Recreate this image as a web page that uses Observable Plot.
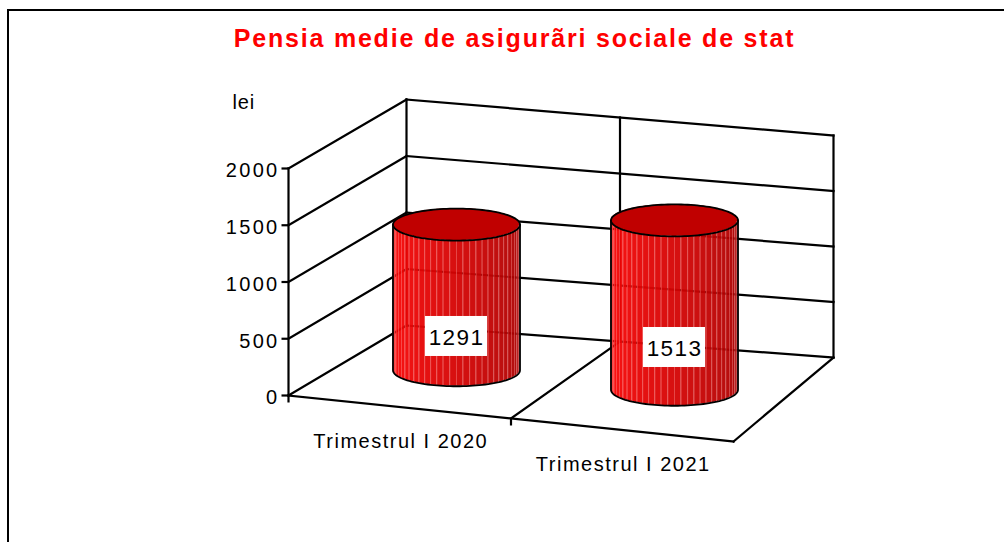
<!DOCTYPE html>
<html>
<head>
<meta charset="utf-8">
<script src="https://cdn.jsdelivr.net/npm/d3@7"></script>
<script src="https://cdn.jsdelivr.net/npm/@observablehq/plot@0.6"></script>
<style>
  html, body { margin: 0; padding: 0; background: #fff; overflow: hidden; }
  #chart { position: absolute; left: 0; top: 0; }
  #frame { position: absolute; left: 7px; top: 9px; width: 1100px; height: 700px;
           border-left: 2px solid #000; border-top: 2px solid #000; pointer-events: none; }
</style>
</head>
<body>
<div id="chart"></div>
<div id="frame"></div>
<script>
// ---- data ----
const title = "Pensia medie de asigurãri sociale de stat";
const unitLabel = "lei";
const categories = ["Trimestrul I 2020", "Trimestrul I 2021"];
const values = [1291, 1513];
const yTicks = [0, 500, 1000, 1500, 2000];
const yMax = 2000;

// ---- 3D box geometry (projected corners of the floor and wall heights) ----
const W = 1004, H = 542;
const floorPts = {f0: [288, 395], f1: [733, 441], b0: [406, 325], b1: [833, 357]};
const wallH = {f0: 227, f1: 224, b0: 226, b1: 222};
const lerp = (a, b, t) => a + (b - a) * t;
// X: 0..1 across categories, Z: 0 front .. 1 back, v: value in lei
function proj(X, Z, v) {
  const fx = lerp(floorPts.f0[0], floorPts.f1[0], X), fy = lerp(floorPts.f0[1], floorPts.f1[1], X);
  const bx = lerp(floorPts.b0[0], floorPts.b1[0], X), by = lerp(floorPts.b0[1], floorPts.b1[1], X);
  const h = lerp(lerp(wallH.f0, wallH.f1, X), lerp(wallH.b0, wallH.b1, X), Z);
  return [lerp(fx, bx, Z), lerp(fy, by, Z) - (v / yMax) * h];
}
const n = categories.length;
const seg = (a, b) => ({x1: a[0], y1: a[1], x2: b[0], y2: b[1]});

// wall / floor lines
const lines = [];
for (const v of yTicks) {
  lines.push(seg(proj(0, 0, v), proj(0, 1, v)));   // side wall
  lines.push(seg(proj(0, 1, v), proj(1, 1, v)));   // back wall
}
lines.push(seg(proj(0, 0, 0), proj(0, 0, yMax)));  // value axis
for (let i = 0; i <= n; i++) {
  lines.push(seg(proj(i / n, 1, 0), proj(i / n, 1, yMax))); // back wall verticals
  if (i > 0) lines.push(seg(proj(i / n, 0, 0), proj(i / n, 1, 0))); // floor depth lines
}
lines.push(seg(proj(0, 0, 0), proj(1, 0, 0)));      // floor front edge

// tick marks
const yTickMarks = yTicks.map(v => { const p = proj(0, 0, v); return {x1: p[0] - 7, y1: p[1], x2: p[0], y2: p[1]}; });
const xTickMarks = d3.range(0, n).map(i => { const p = proj(i / n, 0, 0); return {x1: p[0], y1: p[1], x2: p[0], y2: p[1] + 7}; });

// ---- cylinders ----
const rx = 63.5, ry = 16, N = 30, zPos = 0.5;
const cyl = values.map((v, i) => {
  const X = (i + 0.5) / n;
  const [cx, cyB] = proj(X, zPos, 0);
  const cyT = proj(X, zPos, v)[1];
  return {i, v, X, cx, cyB, cyT};
});
const shade = t => d3.interpolateRgb("#ff0606", "#a00000")(Math.pow(t, 1.15));
const facetPts = [], facetLines = [], topPts = [], topOutline = [], sideOutline = [];
for (const c of cyl) {
  for (let j = 0; j < N; j++) {
    const t0 = Math.PI - j * Math.PI / N, t1 = Math.PI - (j + 1) * Math.PI / N;
    const col = shade((j + 0.5) / N);
    for (const th of [t0, t1]) {
      facetPts.push({z: c.i + "-" + j, x: c.cx + rx * Math.cos(th),
        y1: c.cyB + ry * Math.sin(th), y2: c.cyT + ry * Math.sin(th), fill: col});
    }
    if (j > 0) {
      facetLines.push({x1: c.cx + rx * Math.cos(t0), y1: c.cyB + ry * Math.sin(t0),
        x2: c.cx + rx * Math.cos(t0), y2: c.cyT + ry * Math.sin(t0)});
    }
  }
  const M = 80;
  for (let k = 0; k <= M; k++) {
    const u = -1 + 2 * k / M, s = Math.sqrt(Math.max(0, 1 - u * u));
    topPts.push({z: c.i, x: c.cx + rx * u, y1: c.cyT - ry * s, y2: c.cyT + ry * s});
  }
  for (let k = 0; k <= 120; k++) {
    const th = 2 * Math.PI * k / 120;
    topOutline.push({z: c.i, x: c.cx + rx * Math.cos(th), y: c.cyT + ry * Math.sin(th)});
  }
  sideOutline.push({z: c.i, x: c.cx - rx, y: c.cyT});
  for (let k = 0; k <= 60; k++) {
    const th = Math.PI - Math.PI * k / 60;
    sideOutline.push({z: c.i, x: c.cx + rx * Math.cos(th), y: c.cyB + ry * Math.sin(th)});
  }
  sideOutline.push({z: c.i, x: c.cx + rx, y: c.cyT});
}

// value labels
const labelW = 62, labelH = 40;
const valueLabels = cyl.map(c => {
  const y = proj(c.X, 0, c.v / 2)[1] + 2.5;
  return {x: c.cx - 2, y, text: String(c.v)};
});

// category labels
const catLabels = categories.map((name, i) => {
  const p = proj((i + 0.5) / n, 0, 0);
  return {x: p[0] + 1, y: p[1] + 40.5, text: name};
});

// value axis labels
const tickLabels = yTicks.map(v => { const p = proj(0, 0, v); return {x: p[0], y: p[1], text: String(v)}; });
const unitPos = [{x: 232, y: 108, text: unitLabel}];
const titlePos = [{x: 514, y: 46, text: title}];

const font = "Liberation Sans, Arial, Helvetica, sans-serif";

const chart = Plot.plot({
  width: W, height: H,
  margin: 0,
  x: {type: "identity", axis: null},
  y: {type: "identity", axis: null},
  style: {background: "transparent", fontFamily: font, overflow: "visible"},
  marks: [
    Plot.link(lines, {x1: "x1", y1: "y1", x2: "x2", y2: "y2", stroke: "#000", strokeWidth: 2.2, strokeLinecap: "square"}),
    Plot.link(yTickMarks, {x1: "x1", y1: "y1", x2: "x2", y2: "y2", stroke: "#000", strokeWidth: 2.2}),
    Plot.link(xTickMarks, {x1: "x1", y1: "y1", x2: "x2", y2: "y2", stroke: "#000", strokeWidth: 2.2}),
    // cylinder sides
    Plot.areaY(facetPts, {x: "x", y1: "y1", y2: "y2", z: "z", fill: "fill", fillOpacity: 0.95, curve: "linear"}),
    Plot.link(facetLines, {x1: "x1", y1: "y1", x2: "x2", y2: "y2", stroke: "#ffa0a0", strokeOpacity: 0.55, strokeWidth: 0.7}),
    // cylinder tops
    Plot.areaY(topPts, {x: "x", y1: "y1", y2: "y2", z: "z", fill: "#c00000", curve: "linear"}),
    Plot.line(topOutline, {x: "x", y: "y", z: "z", stroke: "#000", strokeWidth: 1.8, curve: "linear"}),
    Plot.line(sideOutline, {x: "x", y: "y", z: "z", stroke: "#000", strokeWidth: 1.8, curve: "linear"}),
    // value labels
    Plot.rect(valueLabels, {x1: d => d.x - labelW / 2 + 2, x2: d => d.x + labelW / 2 + 2,
      y1: d => d.y - labelH / 2, y2: d => d.y + labelH / 2, fill: "#fff"}),
    Plot.text(valueLabels, {x: "x", y: "y", text: "text", fontSize: 22.5, fill: "#000",
      textAnchor: "middle", lineAnchor: "middle", dy: 1, dx: 2}),
    // axis labels
    Plot.text(tickLabels, {x: "x", y: "y", text: "text", fontSize: 20, fill: "#000", textAnchor: "end",
      lineAnchor: "middle", dx: -9, dy: 2.5}),
    Plot.text(catLabels, {x: "x", y: "y", text: "text", fontSize: 20, fill: "#000", textAnchor: "middle",
      lineAnchor: "bottom"}),
    Plot.text(unitPos, {x: "x", y: "y", text: "text", fontSize: 20, fill: "#000", textAnchor: "start",
      lineAnchor: "bottom"}),
    Plot.text(titlePos, {x: "x", y: "y", text: "text", fontSize: 25, fontWeight: "bold", fill: "#ff0000",
      textAnchor: "middle", lineAnchor: "bottom"})
  ]
});
// Excel-like wide letter spacing per text group
const groups = chart.querySelectorAll("g[aria-label='text']");
const spacings = [1.4, 2.3, 1.5, 0.8, 1.8];
groups.forEach((g, k) => { g.style.letterSpacing = spacings[k] + "px"; });
document.getElementById("chart").appendChild(chart);
</script>
</body>
</html>
